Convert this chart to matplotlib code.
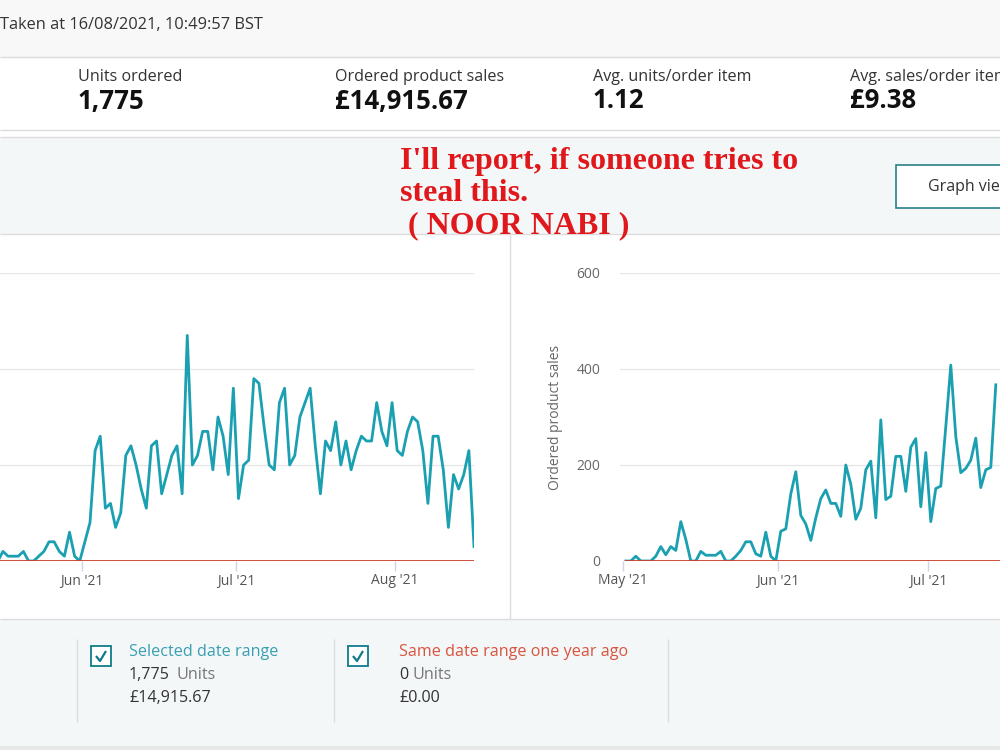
import matplotlib.pyplot as plt
from matplotlib.patches import Rectangle
from matplotlib.lines import Line2D
import numpy as np

plt.rcParams['font.family'] = ['Open Sans', 'DejaVu Sans']

# datos diarios, 1 may 2021 -> 16 ago 2021
units_may = [0, 0, 1, 0, 0, 0, 1, 3, 1, 3, 2, 8, 5, 0, 0,
             2, 1, 1, 1, 2, 0, 0, 1, 2, 4, 4, 2, 1, 6, 1, 0]
units_jun = [4, 8, 23, 26, 11, 12, 7, 10, 22, 24, 20, 15, 11, 24, 25,
             14, 18, 22, 24, 14, 47, 20, 22, 27, 27, 19, 30, 26, 18, 36]
units_jul = [13, 20, 21, 38, 37, 28, 20, 19, 33, 36, 20, 22, 30, 33, 36, 24,
             14, 25, 23, 29, 20, 25, 19, 23, 26, 25, 25, 33, 27, 24, 33]
units_aug = [23, 22, 27, 30, 29, 23, 12, 26, 26, 19, 7, 18, 15, 18, 23, 3]
units = units_may + units_jun + units_jul + units_aug

# ventas (solo la parte que se ve, hasta 14 jul)
sales_may = [0, 0, 10, 0, 0, 0, 10, 30, 13, 30, 22, 82, 45, 0, 0,
             20, 12, 12, 12, 20, 0, 0, 10, 22, 40, 40, 15, 10, 60, 10, 0]
sales_jun = [62, 67, 140, 186, 95, 77, 43, 90, 130, 148, 120, 120, 93, 200, 160,
             87, 110, 190, 208, 90, 294, 128, 135, 218, 218, 145, 237, 255, 113, 226]
sales_jul = [82, 151, 156, 280, 408, 259, 184, 193, 210, 256, 153, 190, 195, 367]
sales = sales_may + sales_jun + sales_jul

last_year = [0] * len(units)

# meses visibles en cada grafica (el resto queda fuera del recorte)
units_month_pos = [31, 61, 92]
units_month_labels = ["Jun '21", "Jul '21", "Aug '21"]
sales_month_pos = [0, 31, 61]
sales_month_labels = ["May '21", "Jun '21", "Jul '21"]
unit_ticks = [0, 20, 40, 60]
sales_ticks = [0, 200, 400, 600]

teal = '#1aa0b1'
red = '#cc3d2a'

W, H = 1000, 750
fig = plt.figure(figsize=(10, 7.5), dpi=100)
fig.patch.set_facecolor('white')


def caja(x, y, w, h, color, ec='none', lw=0, z=-5):
    fig.add_artist(Rectangle((x / W, 1 - (y + h) / H), w / W, h / H,
                             transform=fig.transFigure, facecolor=color,
                             edgecolor=ec, lw=lw, zorder=z))


def linea(xs, ys, color='#dcdcdc', lw=1, z=-4):
    fig.add_artist(Line2D([v / W for v in xs], [1 - v / H for v in ys],
                          transform=fig.transFigure, color=color, lw=lw,
                          zorder=z, solid_capstyle='butt'))


def texto(x, y, s, **kw):
    fig.text(x / W, 1 - y / H, s, va='center', **kw)


# fondos
caja(0, 0, W, 57, '#f8f8f8')
linea([0, W], [57, 57])
linea([0, W], [130, 130])
caja(0, 137, W, 97, '#f4f7f8')
linea([0, W], [137, 137])
linea([0, W], [234, 234])
linea([510, 510], [234, 619])
caja(0, 619, W, 127, '#f4f7f8')
linea([0, W], [619, 619])
caja(0, 746, W, 4, '#e6e8e8')
for xv in [77, 334, 668]:
    linea([xv, xv], [639, 722])

# cabecera
texto(0, 25, "Taken at 16/08/2021, 10:49:57 BST", fontsize=11.8, color='#333333')
metricas = [(78, "Units ordered", "1,775"),
            (335, "Ordered product sales", "£14,915.67"),
            (593, "Avg. units/order item", "1.12"),
            (850, "Avg. sales/order item", "£9.38")]
for xm, lab, val in metricas:
    texto(xm, 77, lab, fontsize=11.6, color='#333333')
    texto(xm, 101, val, fontsize=18.5, fontweight='bold', color='#111111')

# marca de agua
wm = dict(family='Liberation Serif', fontweight='bold', color='#e0181b', fontsize=23)
texto(400, 162, "I'll report, if someone tries to", **wm)
texto(400, 193, "steal this.", **wm)
texto(400, 226, " ( NOOR NABI )", **wm)

# boton
caja(896, 165, 120, 43, 'white', ec='#2b7f89', lw=1.2, z=-3)
texto(928, 187, "Graph view", fontsize=11.5, color='#333333')

# graficas
ax1 = fig.add_axes([-80 / W, 1 - 561 / H, 554 / W, 288 / H])
ax2 = fig.add_axes([619.8 / W, 1 - 561 / H, 541 / W, 288 / H])

x_all = np.arange(len(units)) + 0.5
for ax, serie, yt, mp, ml in [(ax1, units, unit_ticks, units_month_pos, units_month_labels),
                              (ax2, sales, sales_ticks, sales_month_pos, sales_month_labels)]:
    ax.set_facecolor('none')
    xs = np.arange(len(serie)) + 0.5
    ax.plot(xs, serie, color=teal, lw=2.0, solid_joinstyle='round', zorder=3)
    ax.plot(x_all, last_year, color=red, lw=1.3, zorder=4)
    ax.set_xlim(-0.7, 107.5)
    ax.set_ylim(yt[0], yt[-1])
    ax.set_yticks(yt)
    ax.set_xticks(mp)
    ax.set_xticklabels(ml)
    ax.grid(axis='y', color='#e6e6e6', lw=0.9)
    ax.set_axisbelow(True)
    for s in ax.spines.values():
        s.set_visible(False)
    ax.tick_params(axis='x', length=7, width=1, color='#ccd6eb', labelsize=10,
                   labelcolor='#555555', pad=2)
    ax.tick_params(axis='y', length=0, labelsize=10, labelcolor='#666666', pad=14)

# la grafica de unidades empieza fuera del recorte: sin etiquetas en y
ax1.set_yticklabels([])
ax2.set_ylabel("Ordered product sales", fontsize=10, color='#666666', labelpad=10)

# leyenda
def check(x, y):
    caja(x, y, 20, 20, 'white', ec='#0f7b8a', lw=1.3, z=-3)
    linea([x + 5, x + 9, x + 15], [y + 10, y + 15, y + 5], color='#0f7b8a', lw=1.6, z=-2)


check(91, 646)
texto(129, 652, "Selected date range", fontsize=11.6, color='#3a9fb2')
texto(129, 675, "1,775", fontsize=11.6, color='#333333')
texto(176, 675, "Units", fontsize=11.6, color='#777777')
texto(129, 698, "£14,915.67", fontsize=11.6, color='#333333')

check(348, 646)
texto(399, 652, "Same date range one year ago", fontsize=11.6, color='#d9543f')
texto(399, 675, "0", fontsize=11.6, color='#333333')
texto(412, 675, "Units", fontsize=11.6, color='#777777')
texto(399, 698, "£0.00", fontsize=11.6, color='#333333')

plt.savefig('out.png', dpi=100)
